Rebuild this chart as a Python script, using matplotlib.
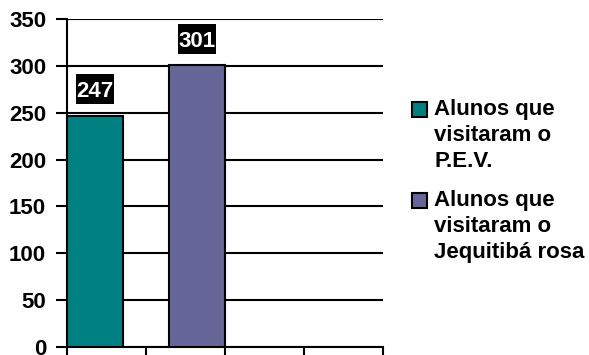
import matplotlib.pyplot as plt
from matplotlib.patches import Rectangle

plt.rcParams["font.family"] = ["Liberation Sans", "DejaVu Sans"]
plt.rcParams["font.weight"] = "bold"

series = ["Alunos que\nvisitaram o\nP.E.V.", "Alunos que\nvisitaram o\nJequitibá rosa"]
values = [247, 301]
colors = ["#008080", "#666699"]
yticks = [0, 50, 100, 150, 200, 250, 300, 350]

fig = plt.figure(figsize=(5.89, 3.55), dpi=100)
ax = fig.add_axes([67 / 589, 8 / 355, 316 / 589, 328 / 355])

positions = [0.355, 1.645]
ax.bar(positions, values, width=0.71, color=colors, edgecolor="black", linewidth=1.5, zorder=3)

# value labels: white text on a black box above each bar
for x, v in zip(positions, values):
    ax.add_patch(Rectangle((x - 0.245, v + 12), 0.49, 32, facecolor="black",
                           edgecolor="none", zorder=4))
    ax.text(x, v + 28, str(v), ha="center", va="center_baseline", color="white",
            fontsize=16, fontweight="bold", zorder=5)

ax.set_xlim(0, 4)
ax.set_ylim(0, 350)
ax.set_yticks(yticks)
ax.set_xticks([0, 1, 2, 3, 4])
ax.set_xticklabels([])
ax.tick_params(axis="y", labelsize=16, length=8, width=1.5, direction="out", pad=7)
ax.tick_params(axis="x", length=8, width=1.5, direction="out")
for t in ax.get_yticklabels():
    t.set_fontweight("bold")
ax.yaxis.grid(True, color="black", linewidth=1.5, zorder=0)
ax.set_axisbelow(True)
for s in ["top", "right"]:
    ax.spines[s].set_visible(False)
ax.spines["left"].set_linewidth(1.5)
ax.spines["bottom"].set_linewidth(1.5)

# legend drawn by hand so the square lines up with the first text line
legend_tops = [117, 208]
for c, label, yb in zip(colors, series, legend_tops):
    fig.patches.append(Rectangle((412 / 589, 1 - yb / 355), 15 / 589, 15 / 355,
                                 facecolor=c, edgecolor="black", linewidth=1.5,
                                 transform=fig.transFigure, figure=fig))
    fig.text(434 / 589, 1 - (yb - 18) / 355, label, ha="left", va="top",
             fontsize=16, fontweight="bold", linespacing=1.3)

fig.savefig("out.png", dpi=100)
